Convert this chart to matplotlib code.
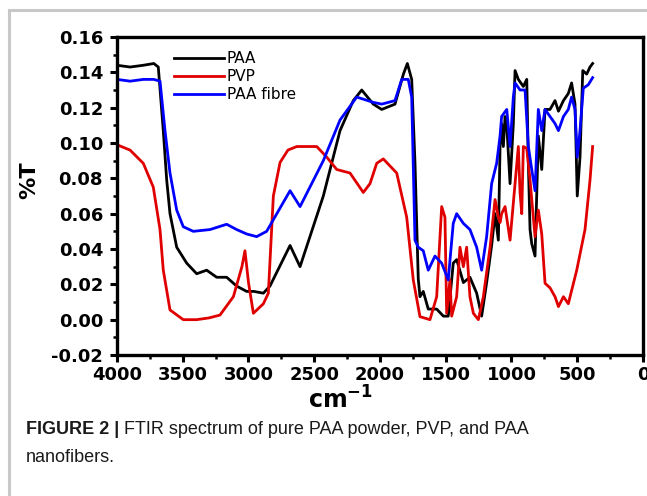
import matplotlib
matplotlib.use("Agg")
import matplotlib.pyplot as plt
from matplotlib.patches import Rectangle

# ---------------- data (wavenumber cm^-1, %T) ----------------
paa_x = [4000, 3900, 3800, 3720, 3686, 3648, 3622, 3597, 3546, 3470, 3394, 3318, 3242,
         3166, 3090, 3014, 2960, 2887, 2837, 2684, 2608, 2431, 2304, 2203, 2139, 2051,
         1987, 1886, 1822, 1792, 1759, 1734, 1709, 1696, 1671, 1633, 1569, 1518, 1481,
         1443, 1417, 1366, 1316, 1265, 1227, 1189, 1151, 1125, 1100, 1087, 1075, 1062,
         1049, 1036, 1011, 986, 973, 948, 910, 884, 872, 859, 846, 821, 796, 770, 745,
         707, 669, 643, 605, 568, 543, 517, 500, 479, 458, 428, 403, 383]
paa_y = [0.144, 0.143, 0.144, 0.145, 0.143, 0.107, 0.079, 0.060, 0.041, 0.032, 0.026,
         0.028, 0.024, 0.024, 0.019, 0.016, 0.016, 0.015, 0.019, 0.042, 0.030, 0.070,
         0.107, 0.124, 0.130, 0.122, 0.119, 0.122, 0.139, 0.145, 0.136, 0.089, 0.023,
         0.013, 0.016, 0.006, 0.006, 0.002, 0.002, 0.032, 0.034, 0.021, 0.024, 0.015,
         0.002, 0.021, 0.042, 0.060, 0.045, 0.098, 0.111, 0.098, 0.115, 0.110, 0.077,
         0.111, 0.141, 0.136, 0.132, 0.136, 0.089, 0.051, 0.043, 0.036, 0.104, 0.085,
         0.119, 0.119, 0.124, 0.118, 0.124, 0.128, 0.134, 0.122, 0.070, 0.092, 0.141,
         0.139, 0.143, 0.145]

pvp_x = [4000, 3901, 3800, 3724, 3673, 3648, 3597, 3496, 3394, 3300, 3217, 3115, 3050,
         3027, 3000, 2963, 2887, 2849, 2811, 2760, 2700, 2633, 2481, 2405, 2329, 2228,
         2127, 2076, 2025, 1975, 1873, 1797, 1747, 1696, 1620, 1569, 1531, 1506, 1493,
         1468, 1455, 1417, 1392, 1366, 1341, 1316, 1290, 1252, 1214, 1163, 1125, 1100,
         1087, 1075, 1049, 1011, 973, 948, 935, 922, 910, 884, 859, 834, 821, 796, 770,
         745, 707, 669, 643, 605, 568, 504, 441, 403, 383]
pvp_y = [0.099, 0.096, 0.0885, 0.075, 0.051, 0.028, 0.0055, 0.000, 0.000, 0.001,
         0.0026, 0.013, 0.030, 0.039, 0.021, 0.0036, 0.009, 0.015, 0.070, 0.089, 0.096,
         0.098, 0.098, 0.092, 0.085, 0.083, 0.072, 0.077, 0.0885, 0.091, 0.083, 0.058,
         0.0225, 0.0017, 0.000, 0.013, 0.064, 0.058, 0.0036, 0.0225, 0.002, 0.013, 0.041,
         0.030, 0.041, 0.013, 0.0036, 0.000, 0.013, 0.041, 0.068, 0.058, 0.055, 0.060,
         0.064, 0.045, 0.077, 0.098, 0.072, 0.060, 0.098, 0.097, 0.079, 0.058, 0.047,
         0.062, 0.0485, 0.0206, 0.018, 0.013, 0.0074, 0.013, 0.009, 0.028, 0.051, 0.079,
         0.098]

fib_x = [4000, 3900, 3800, 3720, 3673, 3635, 3597, 3546, 3496, 3420, 3293, 3166, 3090,
         3014, 2938, 2862, 2684, 2608, 2431, 2304, 2177, 2051, 1987, 1886, 1835, 1785,
         1759, 1734, 1709, 1671, 1633, 1582, 1531, 1481, 1443, 1417, 1366, 1316, 1265,
         1227, 1189, 1151, 1113, 1087, 1075, 1036, 1011, 986, 973, 935, 897, 872, 846,
         821, 796, 770, 745, 707, 669, 643, 605, 568, 543, 517, 500, 479, 454, 416, 383]
fib_y = [0.136, 0.135, 0.136, 0.136, 0.135, 0.107, 0.083, 0.062, 0.0526, 0.050, 0.051,
         0.054, 0.051, 0.0485, 0.047, 0.050, 0.073, 0.064, 0.090, 0.113, 0.126, 0.123,
         0.122, 0.124, 0.136, 0.136, 0.126, 0.045, 0.041, 0.039, 0.028, 0.036, 0.032,
         0.0225, 0.0545, 0.060, 0.0545, 0.051, 0.041, 0.028, 0.047, 0.077, 0.0885, 0.104,
         0.115, 0.119, 0.098, 0.126, 0.134, 0.130, 0.130, 0.098, 0.085, 0.073, 0.119,
         0.107, 0.119, 0.115, 0.111, 0.107, 0.115, 0.119, 0.126, 0.119, 0.092, 0.107,
         0.131, 0.133, 0.137]

labels = ["PAA", "PVP", "PAA fibre"]
colors = ["#000000", "#e00000", "#0000ff"]
x_ticks = [4000, 3500, 3000, 2500, 2000, 1500, 1000, 500, 0]
y_ticks = [-0.02, 0.00, 0.02, 0.04, 0.06, 0.08, 0.10, 0.12, 0.14, 0.16]
caption_bold = "FIGURE 2 |"
caption_rest = " FTIR spectrum of pure PAA powder, PVP, and PAA"
caption_line2 = "nanofibers."

# ---------------- figure ----------------
W, H = 647, 496
fig = plt.figure(figsize=(W / 100, H / 100), dpi=100)
fig.patch.set_facecolor("white")

# outer light-grey frame
fig.patches.append(Rectangle((9 / W, -0.05), 1.2, (H - 10) / H + 0.05,
                             transform=fig.transFigure, fill=False,
                             edgecolor="#c8c8c8", linewidth=2.2))

L, R, T, B = 117, 643, 37, 355
ax = fig.add_axes([L / W, 1 - B / H, (R - L) / W, (B - T) / H])

for xs, ys, c, lab in zip([paa_x, pvp_x, fib_x], [paa_y, pvp_y, fib_y], colors, labels):
    ax.plot(xs, ys, color=c, lw=2.0, label=lab)

ax.set_xlim(4000, 0)
ax.set_ylim(-0.02, 0.16)
ax.set_xticks(x_ticks)
ax.set_xticklabels([str(v) for v in x_ticks])
ax.set_yticks(y_ticks)
ax.set_yticklabels([f"{v:.2f}" for v in y_ticks])
ax.set_xticks([3750, 3250, 2750, 2250, 1750, 1250, 750, 250], minor=True)
ax.set_yticks([-0.01, 0.01, 0.03, 0.05, 0.07, 0.09, 0.11, 0.13, 0.15], minor=True)

for s in ax.spines.values():
    s.set_linewidth(2.4)
ax.tick_params(which="major", direction="out", length=5, width=2.2, pad=3,
               labelsize=13)
ax.tick_params(axis="y", which="major", pad=5)
ax.tick_params(which="minor", direction="out", length=3, width=1.8)
for lbl in ax.get_xticklabels() + ax.get_yticklabels():
    lbl.set_fontweight("bold")
    lbl.set_fontfamily("DejaVu Sans")

leg = ax.legend(loc="upper left", bbox_to_anchor=(0.108, 0.955), frameon=False,
                handlelength=3.3, handletextpad=0.15, labelspacing=0.2,
                borderpad=0, borderaxespad=0,
                prop={"family": "DejaVu Sans", "size": 11})
for line in leg.get_lines():
    line.set_linewidth(2.0)

# axis labels
fig.text(340 / W, 1 - 400 / H, r"$\mathbf{cm}^{\mathbf{-1}}$", ha="center", va="center",
         fontsize=17, fontweight="bold", family="DejaVu Sans")
fig.text(29 / W, 1 - 180 / H, "%T", ha="center", va="center", rotation=90,
         fontsize=16, fontweight="bold", family="DejaVu Sans")

# caption
t1 = fig.text(26 / W, 1 - 430 / H, caption_bold, ha="left", va="center",
              fontsize=13, fontweight="bold", family="Liberation Sans", color="#1a1a1a")
fig.canvas.draw()
bb = t1.get_window_extent(renderer=fig.canvas.get_renderer())
fig.text(bb.x1 / W, 1 - 430 / H, caption_rest, ha="left", va="center",
         fontsize=13, family="Liberation Sans", color="#1a1a1a")
fig.text(26 / W, 1 - 457 / H, caption_line2, ha="left", va="center",
         fontsize=13, family="Liberation Sans", color="#1a1a1a")

fig.savefig("out.png", dpi=100)
